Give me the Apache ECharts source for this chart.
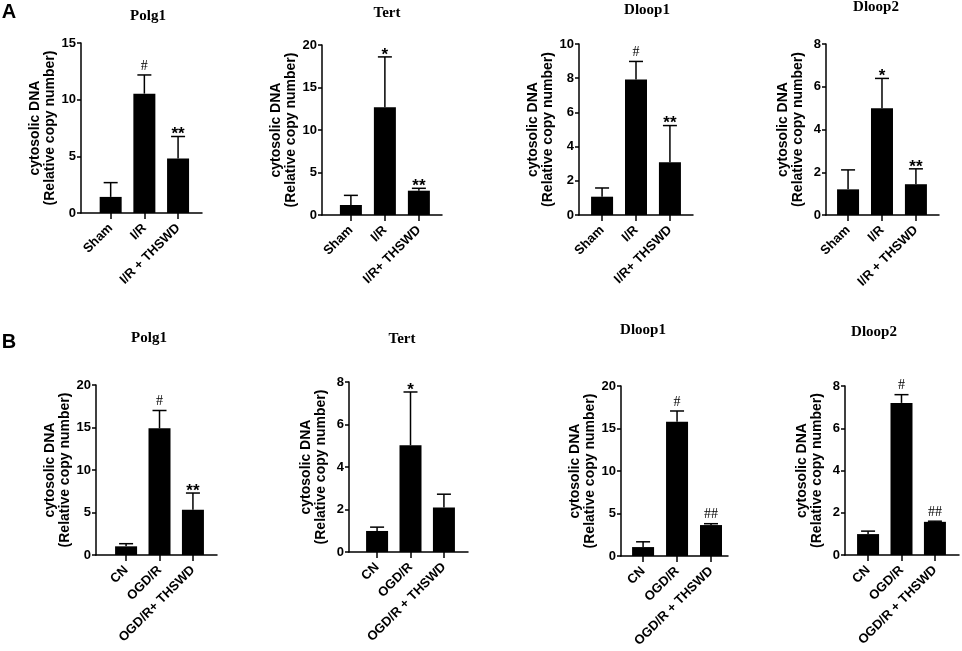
<!DOCTYPE html>
<html>
<head>
<meta charset="utf-8">
<script src="https://cdn.jsdelivr.net/npm/echarts@6/dist/echarts.min.js"></script>
<style>
    html, body { margin: 0; padding: 0; background: #fff; }
    #main { width: 962px; height: 651px; }
</style>
</head>
<body>
<div id="main"></div>
<script>
// ---- data ----
// A: animal groups
const catsA1 = ['Sham', 'I/R', 'I/R + THSWD']
const catsA2 = ['Sham', 'I/R', 'I/R+ THSWD']
const polg1A = [1.42, 10.53, 4.81]
const polg1AUp = [2.68, 12.18, 6.75]
const polg1ASig = ['', '#', '**']
const tertA = [1.18, 12.67, 2.86]
const tertAUp = [2.31, 18.6, 3.14]
const tertASig = ['', '*', '**']
const dloop1A = [1.07, 7.93, 3.09]
const dloop1AUp = [1.58, 8.98, 5.23]
const dloop1ASig = ['', '#', '**']
const dloop2A = [1.2, 5.0, 1.44]
const dloop2AUp = [2.11, 6.39, 2.16]
const dloop2ASig = ['', '*', '**']

// B: cell groups
const catsB1 = ['CN', 'OGD/R', 'OGD/R+ THSWD']
const catsB2 = ['CN', 'OGD/R', 'OGD/R + THSWD']
const polg1B = [1.02, 14.9, 5.33]
const polg1BUp = [1.33, 17.0, 7.29]
const polg1BSig = ['', '#', '**']
const tertB = [0.99, 5.02, 2.09]
const tertBUp = [1.17, 7.53, 2.72]
const tertBSig = ['', '*', '']
const dloop1B = [1.05, 15.8, 3.64]
const dloop1BUp = [1.67, 17.06, 3.8]
const dloop1BSig = ['', '#', '##']
const dloop2B = [0.99, 7.2, 1.57]
const dloop2BUp = [1.13, 7.59, 1.6]
const dloop2BSig = ['', '#', '##']

const yTicksMax = [15, 20, 10, 8, 20, 8, 20, 8]
const yTicksStep = [5, 5, 2, 2, 5, 2, 5, 2]

const panels = [
    { title: 'Polg1', cats: catsA1, mean: polg1A, up: polg1AUp, sig: polg1ASig },
    { title: 'Tert', cats: catsA2, mean: tertA, up: tertAUp, sig: tertASig },
    { title: 'Dloop1', cats: catsA2, mean: dloop1A, up: dloop1AUp, sig: dloop1ASig },
    { title: 'Dloop2', cats: catsA1, mean: dloop2A, up: dloop2AUp, sig: dloop2ASig },
    { title: 'Polg1', cats: catsB1, mean: polg1B, up: polg1BUp, sig: polg1BSig },
    { title: 'Tert', cats: catsB2, mean: tertB, up: tertBUp, sig: tertBSig },
    { title: 'Dloop1', cats: catsB2, mean: dloop1B, up: dloop1BUp, sig: dloop1BSig },
    { title: 'Dloop2', cats: catsB2, mean: dloop2B, up: dloop2BUp, sig: dloop2BSig },
]

// ---- layout (pixels) ----
// [left, top, width, height] of each plot box
const boxes = [
    [81, 43, 121, 170], [322, 45, 120, 170], [579, 44, 114, 171], [826, 44, 113, 171],
    [96, 385, 121, 170], [349, 382, 119, 170], [621, 386, 107, 170], [845, 386, 114, 169],
]
// x extent around bar slots 0,1,2
const xRanges = [
    [-0.88, 2.71], [-0.85, 2.68], [-0.68, 2.68], [-0.65, 2.68],
    [-0.9, 2.72], [-0.84, 2.72], [-0.65, 2.5], [-0.69, 2.72],
]
const titlePos = [
    [148, 16], [387, 13], [647, 10], [876, 7],
    [149, 338], [402, 339], [643, 330], [874, 332],
]

const SANS = '"Liberation Sans", Arial, sans-serif'
const SERIF = '"Liberation Serif", "Times New Roman", serif'

function errorRender(panel) {
    return function (params, api) {
        const x = api.value(0)
        const base = api.coord([x, api.value(1)])
        const top = api.coord([x, api.value(2)])
        const lineStyle = { stroke: '#000', lineWidth: 1.5 }
        const children = [
            { type: 'line', shape: { x1: base[0], y1: base[1], x2: top[0], y2: top[1] }, style: lineStyle },
            { type: 'line', shape: { x1: top[0] - 7, y1: top[1], x2: top[0] + 7, y2: top[1] }, style: lineStyle },
        ]
        const s = panel.sig[params.dataIndex]
        if (s) {
            const hash = s.indexOf('#') >= 0
            children.push({
                type: 'text',
                x: top[0],
                y: top[1] - (hash ? 9 : 2),
                style: {
                    text: s,
                    align: 'center',
                    verticalAlign: 'middle',
                    font: hash ? '14px ' + SERIF : 'bold 17px ' + SANS,
                    fill: '#000'
                }
            })
        }
        return { type: 'group', children: children }
    }
}

const grid = [], xAxis = [], yAxis = [], series = [], graphic = []

panels.forEach((p, i) => {
    const b = boxes[i]
    grid.push({ left: b[0], top: b[1], width: b[2], height: b[3] })

    xAxis.push({
        gridIndex: i,
        type: 'value',
        min: xRanges[i][0],
        max: xRanges[i][1],
        splitLine: { show: false },
        axisLine: { show: true, onZero: false, lineStyle: { color: '#000', width: 1.5 } },
        axisTick: { show: true, customValues: [0, 1, 2], length: 6, lineStyle: { color: '#000', width: 1.5 } },
        axisLabel: {
            customValues: [0, 1, 2],
            formatter: v => p.cats[Math.round(v)],
            rotate: 45,
            margin: 13,
            color: '#000',
            fontFamily: SANS,
            fontWeight: 'bold',
            fontSize: 13
        }
    })

    yAxis.push({
        gridIndex: i,
        type: 'value',
        min: 0,
        max: yTicksMax[i],
        interval: yTicksStep[i],
        name: 'cytosolic DNA\n(Relative copy number)',
        nameLocation: 'middle',
        nameRotate: 90,
        nameGap: 20,
        nameTextStyle: { color: '#000', fontFamily: SANS, fontWeight: 'bold', fontSize: 14, lineHeight: 15 },
        splitLine: { show: false },
        axisLine: { show: true, onZero: false, lineStyle: { color: '#000', width: 1.5 } },
        axisTick: { show: true, length: 4, lineStyle: { color: '#000', width: 1.5 } },
        axisLabel: { color: '#000', fontFamily: SANS, fontWeight: 'bold', fontSize: 13, margin: 5 }
    })

    series.push({
        type: 'bar',
        xAxisIndex: i,
        yAxisIndex: i,
        barWidth: 22,
        itemStyle: { color: '#000' },
        data: p.mean.map((v, k) => [k, v])
    })

    series.push({
        type: 'custom',
        xAxisIndex: i,
        yAxisIndex: i,
        z: 3,
        renderItem: errorRender(p),
        data: p.mean.map((v, k) => [k, v, p.up[k]])
    })

    graphic.push({
        type: 'text',
        x: titlePos[i][0],
        y: titlePos[i][1],
        style: { text: p.title, align: 'center', verticalAlign: 'middle', font: 'bold 15px ' + SERIF, fill: '#000' }
    })
})

graphic.push({ type: 'text', x: 9, y: 12, style: { text: 'A', align: 'center', verticalAlign: 'middle', font: 'bold 20px ' + SANS, fill: '#000' } })
graphic.push({ type: 'text', x: 9, y: 342, style: { text: 'B', align: 'center', verticalAlign: 'middle', font: 'bold 20px ' + SANS, fill: '#000' } })

const chart = echarts.init(document.getElementById('main'))
chart.setOption({
    backgroundColor: '#fff',
    animation: false,
    grid: grid,
    xAxis: xAxis,
    yAxis: yAxis,
    series: series,
    graphic: graphic
})
</script>
</body>
</html>
